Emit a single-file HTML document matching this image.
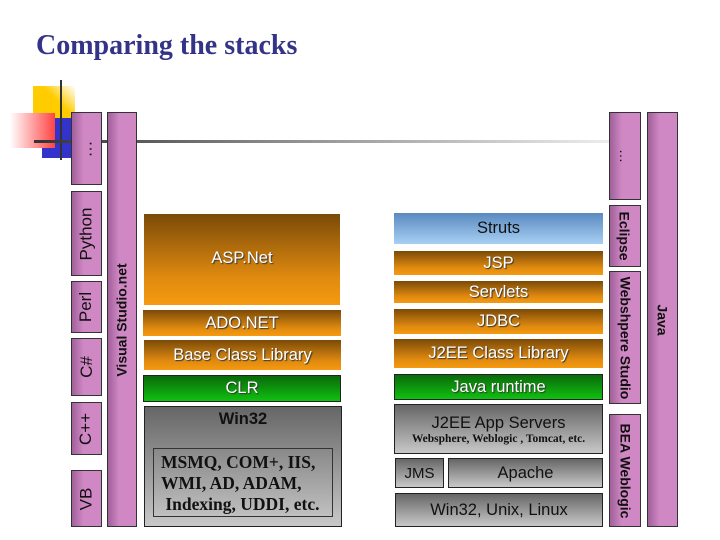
<!DOCTYPE html>
<html><head><style>
body{margin:0;width:720px;height:540px;background:#fff;position:relative;overflow:hidden;font-family:"Liberation Sans",sans-serif}
div{box-sizing:border-box;position:absolute}
.bar{background:linear-gradient(90deg,#a0609a,#d088c4 40%,#d088c4);border:1px solid #333}
.vt{display:flex;align-items:center;justify-content:center;font-size:17px;color:#111;white-space:nowrap}
.vt span{display:block;transform:rotate(-90deg)}
.vr span{transform:rotate(90deg);font-weight:bold;font-size:14px}
.or{background:linear-gradient(#7a4a08,#e08a10 70%,#f59a10);color:#fff;display:flex;align-items:center;justify-content:center;font-size:16.5px;text-shadow:1px 1px 1px #333}
.gr{background:linear-gradient(#0a6a0a,#10c010);border:1px solid #222;color:#fff;display:flex;align-items:center;justify-content:center;font-size:16.5px;text-shadow:1px 1px 1px #333}
.gy{background:linear-gradient(#666,#c8c8c8);border:1px solid #222;color:#111;display:flex;align-items:center;justify-content:center;font-size:16.5px}
</style></head><body>
<div style="left:33px;top:86px;width:42px;height:40px;background:linear-gradient(45deg,#fc0,#fc0 60%,#fff)"></div>
<div style="left:42px;top:118px;width:30px;height:40px;background:#33c"></div>
<div style="left:10px;top:113px;width:45px;height:35px;background:linear-gradient(90deg,#fff,#f44)"></div>
<div style="left:60px;top:80px;width:2px;height:80px;background:#333"></div>
<div style="left:34px;top:140px;width:580px;height:3px;background:linear-gradient(90deg,#333,#888 40%,#eee)"></div>
<div style="left:36px;top:30px;font-family:'Liberation Serif',serif;font-size:28px;font-weight:bold;color:#333388">Comparing the stacks</div>

<div class="bar vt" style="left:71px;top:112px;width:31px;height:73px"><span>…</span></div>
<div class="bar vt" style="left:71px;top:191px;width:31px;height:85px"><span>Python</span></div>
<div class="bar vt" style="left:71px;top:281px;width:31px;height:52px"><span>Perl</span></div>
<div class="bar vt" style="left:71px;top:338px;width:31px;height:58px"><span>C#</span></div>
<div class="bar vt" style="left:71px;top:402px;width:31px;height:53px"><span>C++</span></div>
<div class="bar vt" style="left:71px;top:470px;width:31px;height:57px"><span>VB</span></div>
<div class="bar vt" style="left:107px;top:112px;width:30px;height:415px;font-weight:bold;font-size:14px"><span>Visual Studio.net</span></div>

<div class="or" style="left:144px;top:214px;width:196px;height:91px;align-items:flex-start;padding-top:35px">ASP.Net</div>
<div class="or" style="left:143px;top:310px;width:198px;height:26px">ADO.NET</div>
<div class="or" style="left:144px;top:340px;width:197px;height:30px">Base Class Library</div>
<div class="gr" style="left:143px;top:375px;width:198px;height:27px">CLR</div>
<div class="gy" style="left:144px;top:406px;width:198px;height:121px;align-items:flex-start;padding-top:3px;font-weight:bold">Win32</div>
<div style="left:153px;top:448px;width:180px;height:69px;border:1px solid #333;font-family:'Liberation Serif',serif;font-weight:bold;font-size:17.5px;line-height:21px;padding:3px 0 0 7px;color:#111;white-space:nowrap">MSMQ, COM+, IIS,<br>WMI, AD, ADAM,<br>&nbsp;Indexing, UDDI, etc.</div>

<div style="left:394px;top:213px;width:209px;height:31px;background:linear-gradient(#5a8ac0,#a8d0f4);display:flex;align-items:center;justify-content:center;font-size:16.5px;color:#111">Struts</div>
<div class="or" style="left:394px;top:251px;width:209px;height:24px">JSP</div>
<div class="or" style="left:394px;top:281px;width:209px;height:22px">Servlets</div>
<div class="or" style="left:394px;top:309px;width:209px;height:25px">JDBC</div>
<div class="or" style="left:394px;top:339px;width:209px;height:29px">J2EE Class Library</div>
<div class="gr" style="left:394px;top:374px;width:209px;height:26px">Java runtime</div>
<div class="gy" style="left:394px;top:404px;width:209px;height:50px;flex-direction:column"><span>J2EE App Servers</span><span style="font-family:'Liberation Serif',serif;font-weight:bold;font-size:11.5px">Websphere, Weblogic , Tomcat, etc.</span></div>
<div class="gy" style="left:395px;top:458px;width:49px;height:30px;font-size:15px">JMS</div>
<div class="gy" style="left:448px;top:458px;width:155px;height:30px">Apache</div>
<div class="gy" style="left:395px;top:493px;width:208px;height:34px">Win32, Unix, Linux</div>

<div class="bar vt vr" style="left:609px;top:112px;width:32px;height:88px"><span style="font-weight:normal">…</span></div>
<div class="bar vt vr" style="left:609px;top:205px;width:32px;height:62px"><span>Eclipse</span></div>
<div class="bar vt vr" style="left:609px;top:271px;width:32px;height:133px"><span>Webshpere Studio</span></div>
<div class="bar vt vr" style="left:609px;top:414px;width:32px;height:113px"><span>BEA Weblogic</span></div>
<div class="bar vt vr" style="left:647px;top:112px;width:31px;height:415px"><span>Java</span></div>
</body></html>
